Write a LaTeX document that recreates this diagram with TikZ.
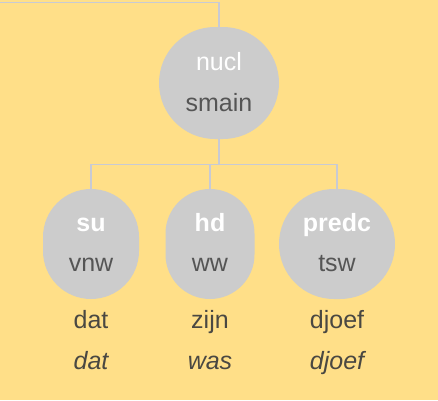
\documentclass[tikz,border=0pt]{standalone}
\usepackage{fontspec}
\setmainfont{Liberation Sans}
\definecolor{bgyellow}{RGB}{255,223,136}
\definecolor{nodefill}{RGB}{204,204,204}
\definecolor{edgecol}{RGB}{200,202,212}
\definecolor{cattext}{RGB}{85,85,85}
\definecolor{wordtext}{RGB}{74,72,66}
\tikzset{
  treenode/.style={draw=none, fill=nodefill, inner sep=0pt, rectangle},
  edge/.style={draw=edgecol, line width=0.8pt},
  reltext/.style={anchor=base, text=white, font=\fontsize{18.75pt}{20pt}\selectfont},
  reltextb/.style={reltext, font=\fontsize{18.75pt}{20pt}\selectfont\bfseries},
  cattextst/.style={anchor=base, text=cattext, font=\fontsize{18.75pt}{20pt}\selectfont},
  wordst/.style={anchor=base, text=wordtext, font=\fontsize{18.75pt}{20pt}\selectfont},
  lemmast/.style={anchor=base, text=wordtext, font=\fontsize{18.75pt}{20pt}\selectfont\itshape},
}
\begin{document}
\begin{tikzpicture}[x=0.75pt, y=-0.75pt]
  % canvas
  \fill[bgyellow] (0,0) rectangle (438,400);
  \useasboundingbox (0,0) rectangle (438,400);

  % tree nodes
  \node[treenode, minimum width=90pt, minimum height=84pt, rounded corners=42pt] (nucl) at (219,83) {};
  \node[treenode, minimum width=72pt, minimum height=82.5pt, rounded corners=36pt] (su) at (91,244) {};
  \node[treenode, minimum width=66.75pt, minimum height=82.5pt, rounded corners=33.375pt] (hd) at (210,244) {};
  \node[treenode, minimum width=87pt, minimum height=82.5pt, rounded corners=41.25pt] (predc) at (337,244) {};

  % connectors
  \coordinate (entry) at (0,2.5);
  \draw[edge] (entry) -| (nucl.north);
  \draw[edge] (nucl.south) -- ++(0,25) coordinate (junction);
  \draw[edge] (junction) -| (su.north);
  \draw[edge] (junction) -| (hd.north);
  \draw[edge] (junction) -| (predc.north);

  % labels inside nodes
  \node[reltext] (nuclrel) at (219,70) {nucl};
  \node[cattextst] (nuclcat) at (219,111) {smain};
  \node[reltextb] (surel) at (91,231) {su};
  \node[cattextst] (sucat) at (91,271.5) {vnw};
  \node[reltextb] (hdrel) at (210,231) {hd};
  \node[cattextst] (hdcat) at (210,271.5) {ww};
  \node[reltextb] (predcrel) at (337,231) {predc};
  \node[cattextst] (predccat) at (337,271.5) {tsw};

  % words and lemmas
  \node[wordst] (w1) at (91,328) {dat};
  \node[wordst] (w2) at (210,328) {zijn};
  \node[wordst] (w3) at (337,328) {djoef};
  \node[lemmast] (l1) at (91,369) {dat};
  \node[lemmast] (l2) at (210,369) {was};
  \node[lemmast] (l3) at (337,369) {djoef};
\end{tikzpicture}
\end{document}
